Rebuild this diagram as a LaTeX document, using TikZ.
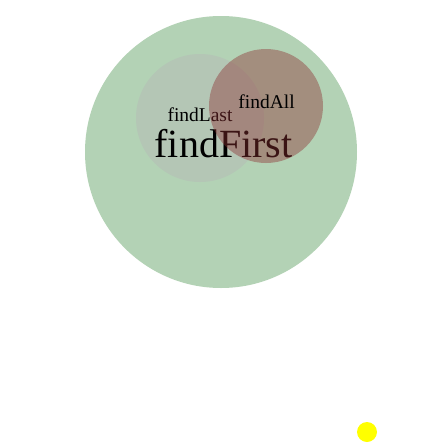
\documentclass[tikz,border=0pt]{standalone}
\usepackage{fontspec}
\setmainfont{Liberation Serif}
\usepackage{tikz}
\definecolor{setgreen}{RGB}{179,210,181}
\definecolor{setgray}{RGB}{180,198,181}
\definecolor{setbrown}{RGB}{141,48,50}
\definecolor{dotyellow}{RGB}{255,255,0}
\begin{document}
\begin{tikzpicture}[x=1pt,y=-1pt]
\useasboundingbox[fill=white] (0,0) rectangle (448,448);
\fill[setgreen] (221,152) circle (136);
\fill[setgray] (200,118) circle (64);
\node (first) at (223.5,157) [anchor=base,inner sep=0pt,font=\fontsize{40}{40}\selectfont] {findFirst};
\node (last) at (200,121) [anchor=base,inner sep=0pt,font=\fontsize{19.5}{19.5}\selectfont] {findLast};
\fill[setbrown,fill opacity=0.42] (266,106) circle (57);
\node (all) at (266.5,108) [anchor=base,inner sep=0pt,font=\fontsize{19.5}{19.5}\selectfont] {findAll};
\fill[dotyellow] (367,432) circle (10);
\end{tikzpicture}
\end{document}
